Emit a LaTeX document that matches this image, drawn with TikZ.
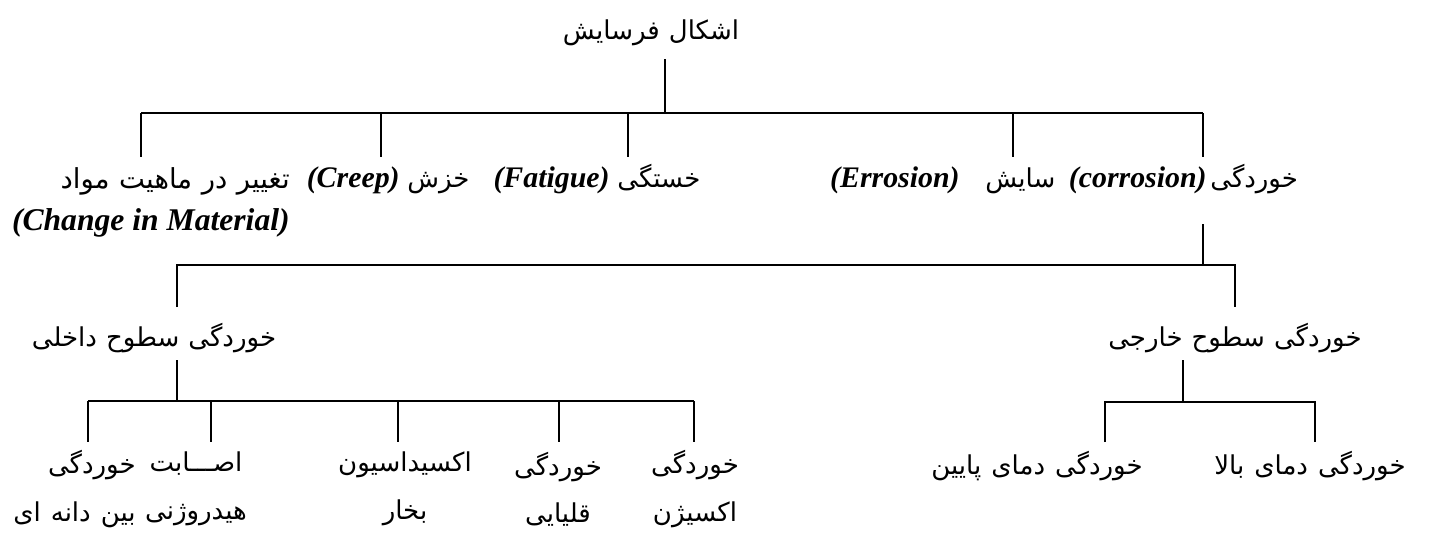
\documentclass[tikz,border=0pt]{standalone}
\usepackage{fontspec}
\usetikzlibrary{positioning}
\setmainfont{Liberation Serif}
\newfontfamily\pfont[Script=Arabic,Scale=0.87,WordSpace=2.4]{DejaVu Sans}
\newfontfamily\pfontn[Script=Arabic,Scale=0.87,WordSpace=1.1]{DejaVu Sans}
\TeXXeTstate=1
\newcommand{\fatxt}[1]{{\pfont\beginR #1\endR}}
\newcommand{\fatxtn}[1]{{\pfontn\beginR #1\endR}}
\newcommand{\entxt}[1]{{\bfseries\itshape #1}}

\begin{document}
\begin{tikzpicture}[x=0.02cm,y=-0.02cm,
    tree/.style={line width=1.1pt},
    lbl/.style={inner sep=0pt,align=center,font=\fontsize{17}{24}\selectfont},
    lbltwo/.style={lbl,font=\fontsize{17}{27}\selectfont}]
  \useasboundingbox (0,0) rectangle (1429,538);

  % root
  \node[lbl] (root) at (651,33) {\fatxt{اشکال فرسایش}};
  \coordinate (r) at (665,59);
  \coordinate (j0) at (665,113);
  \draw[tree] (r) -- (j0);

  % first level
  \foreach \n/\x in {1/141,2/381,3/628,4/1013,5/1203} {
    \coordinate (j\n) at (\x,113);
    \coordinate (e\n) at (\x,157);
    \draw[tree] (j\n) -- (e\n);
  }
  \draw[tree] (j1) -- (j5);

  \node[lbl,align=right,anchor=east,font=\fontsize{18}{24}\selectfont] (change) at (290,202)
    {\fatxt{تغییر در ماهیت مواد}\\ \entxt{(Change in Material)}};
  \node[lbl,anchor=base east] (creepen) at (400,187) {\entxt{(Creep)}};
  \node[lbl,base right=0.14cm of creepen] (creep) {\fatxt{خزش}};
  \node[lbl,anchor=base east] (fatigueen) at (610,187) {\entxt{(Fatigue)}};
  \node[lbl,base right=0.14cm of fatigueen] (fatigue) {\fatxt{خستگی}};
  \node[lbl,anchor=base east] (erosionen) at (960,187) {\entxt{(Errosion)}};
  \node[lbl,base right=0.5cm of erosionen] (erosion) {\fatxt{سایش}};
  \node[lbl,anchor=base east] (corrosionen) at (1207,187) {\entxt{(corrosion)}};
  \node[lbl,base right=0.06cm of corrosionen] (corrosion) {\fatxt{خوردگی}};

  % corrosion
  \coordinate (c0) at (1203,224);
  \coordinate (c1) at (1203,265);
  \coordinate (k1) at (177,265);
  \coordinate (k2) at (1235,265);
  \coordinate (f1) at (177,307);
  \coordinate (f2) at (1235,307);
  \draw[tree] (c0) -- (c1);
  \draw[tree] (f1) -- (k1) -- (k2) -- (f2);

  \node[lbl] (inner) at (154,338) {\fatxt{خوردگی سطوح داخلی}};
  \node[lbl] (outer) at (1235,338) {\fatxt{خوردگی سطوح خارجی}};

  % inner surfaces
  \coordinate (i0) at (177,360);
  \coordinate (i1) at (177,401);
  \draw[tree] (i0) -- (i1);
  \foreach \n/\x in {1/88,2/211,3/398,4/559,5/694} {
    \coordinate (m\n) at (\x,401);
    \coordinate (n\n) at (\x,442);
    \draw[tree] (m\n) -- (n\n);
  }
  \draw[tree] (m1) -- (m5);

  \node[lbltwo,align=right,anchor=east] (grain) at (136,489)
    {\fatxtn{خوردگی}\\ \fatxtn{بین دانه ای}};
  \node[lbltwo] (hydrogen) at (196,489) {\fatxtn{اصـــابت}\\ \fatxtn{هیدروژنی}};
  \node[lbltwo] (steam) at (405,489) {\fatxtn{اکسیداسیون}\\ \fatxtn{بخار}};
  \node[lbltwo] (alkali) at (558,489) {\fatxtn{خوردگی}\\ \fatxtn{قلیایی}};
  \node[lbltwo] (oxygen) at (695,489) {\fatxtn{خوردگی}\\ \fatxtn{اکسیژن}};

  % outer surfaces
  \coordinate (o0) at (1183,360);
  \coordinate (o1) at (1183,402);
  \draw[tree] (o0) -- (o1);
  \coordinate (p1) at (1105,402);
  \coordinate (p2) at (1315,402);
  \coordinate (q1) at (1105,442);
  \coordinate (q2) at (1315,442);
  \draw[tree] (q1) -- (p1) -- (p2) -- (q2);

  \node[lbl] (lowtemp) at (1037,466) {\fatxt{خوردگی دمای پایین}};
  \node[lbl] (hightemp) at (1310,466) {\fatxt{خوردگی دمای بالا}};
\end{tikzpicture}
\end{document}
